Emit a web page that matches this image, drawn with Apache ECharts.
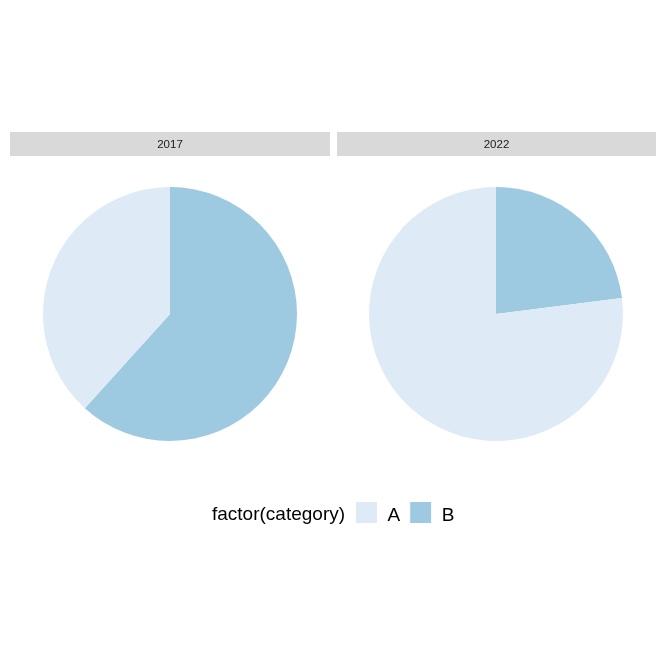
<!DOCTYPE html>
<html>
<head>
<meta charset="utf-8">
<script src="https://cdn.jsdelivr.net/npm/echarts@6/dist/echarts.min.js"></script>
<style>
html,body{margin:0;padding:0;background:#fff;}
#chart{width:664px;height:664px;}
</style>
</head>
<body>
<div id="chart"></div>
<script>
var years = ['2017', '2022'];
var categories = ['A', 'B'];
var valuesA = [38.3, 77.0];
var valuesB = [61.7, 23.0];
var colors = { A: '#DEEBF7', B: '#9ECAE1' };

var FONT = '"Liberation Sans", Arial, sans-serif';
var panels = [
  { x0: 10, x1: 330, cx: 170 },
  { x0: 337, x1: 656, cx: 496 }
];

var chart = echarts.init(document.getElementById('chart'), null, { renderer: 'canvas' });

var series = years.map(function (yr, i) {
  return {
    type: 'pie',
    name: yr,
    center: [panels[i].cx, 314],
    radius: [0, 127],
    startAngle: 90,
    clockwise: true,
    silent: true,
    animation: false,
    label: { show: false },
    labelLine: { show: false },
    emphasis: { disabled: true },
    itemStyle: { borderWidth: 0 },
    data: [
      { name: 'B', value: valuesB[i], itemStyle: { color: colors.B } },
      { name: 'A', value: valuesA[i], itemStyle: { color: colors.A } }
    ]
  };
});

var graphics = [];
years.forEach(function (yr, i) {
  graphics.push({
    type: 'rect',
    shape: { x: panels[i].x0, y: 132, width: panels[i].x1 - panels[i].x0, height: 24 },
    style: { fill: '#D9D9D9' },
    silent: true
  });
  graphics.push({
    type: 'text',
    x: (panels[i].x0 + panels[i].x1) / 2,
    y: 144.5,
    style: {
      text: yr,
      fill: '#1A1A1A',
      font: '11.5px ' + FONT,
      textAlign: 'center',
      textVerticalAlign: 'middle'
    },
    silent: true
  });
});
graphics.push({
  type: 'text',
  x: 212,
  y: 515,
  style: {
    text: 'factor(category)',
    fill: '#000000',
    font: '19px ' + FONT,
    textAlign: 'left',
    textVerticalAlign: 'middle'
  },
  silent: true
});

chart.setOption({
  backgroundColor: '#FFFFFF',
  animation: false,
  legend: {
    data: categories.map(function (c) {
      return { name: c, itemStyle: { color: colors[c], borderColor: '#FFFFFF', borderWidth: 1 } };
    }),
    left: 355,
    top: 501,
    orient: 'horizontal',
    icon: 'rect',
    itemWidth: 22,
    itemHeight: 22,
    itemGap: 9,
    padding: 0,
    selectedMode: false,
    formatter: '{t|{name}}',
    textStyle: {
      fontSize: 19, color: '#000000', fontFamily: FONT,
      rich: { t: { fontSize: 19, color: '#000000', fontFamily: FONT, padding: [6, 0, 0, 5] } }
    }
  },
  graphic: graphics,
  series: series
});
</script>
</body>
</html>
